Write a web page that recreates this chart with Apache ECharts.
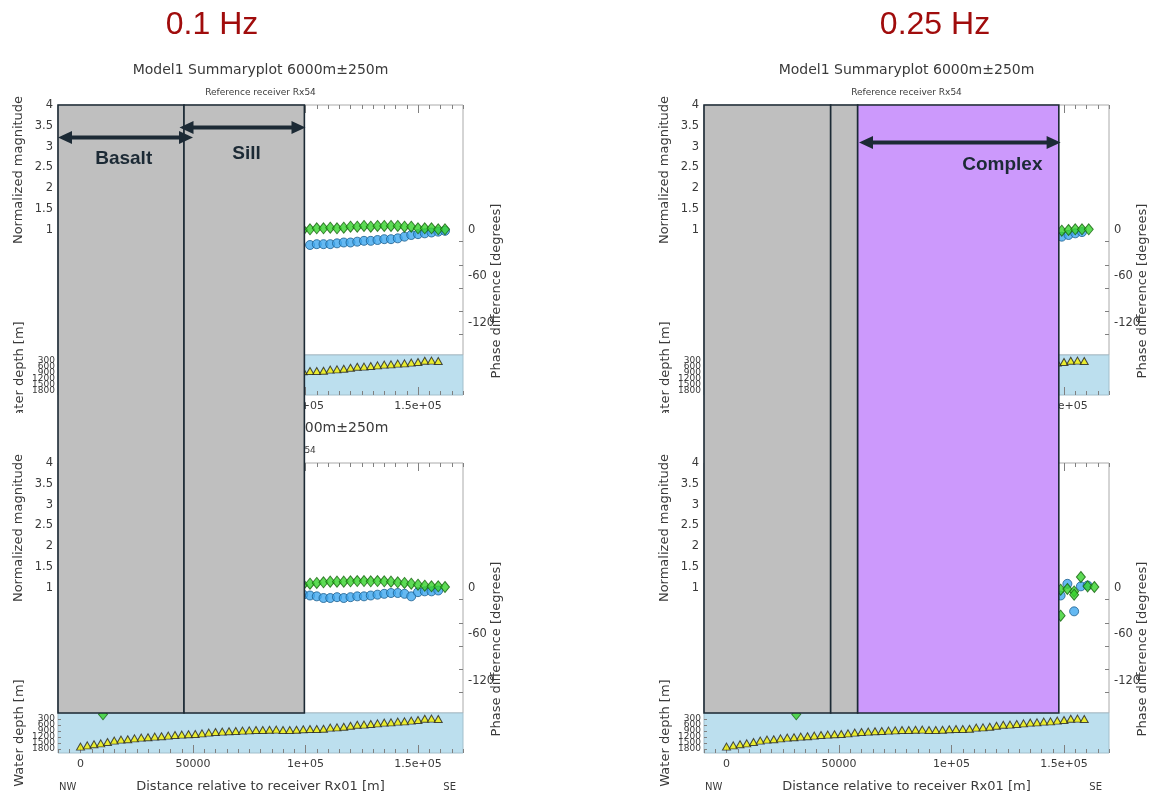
<!DOCTYPE html>
<html>
<head>
<meta charset="utf-8">
<title>Model1 Summaryplot 0.1 Hz / 0.25 Hz</title>
<script src="https://cdn.jsdelivr.net/npm/echarts@6/dist/echarts.min.js"></script>
<style>
  html, body { margin: 0; padding: 0; background: #fff; }
  #page { position: relative; width: 1158px; height: 801px; overflow: hidden; background: #fff; }
  .clip { position: absolute; overflow: hidden; background: #fff; }
  .plot { position: absolute; left: 0; width: 579px; height: 443px; }
  #overlay { position: absolute; left: 0; top: 0; width: 1158px; height: 801px; }
</style>
</head>
<body>
<div id="page">
  <div class="clip" style="left:0;top:0;width:579px;height:413px"><div id="p01a" class="plot" style="top:0"></div></div>
  <div class="clip" style="left:579px;top:0;width:579px;height:413px"><div id="p25a" class="plot" style="top:0"></div></div>
  <div class="clip" style="left:0;top:413px;width:579px;height:388px"><div id="p01b" class="plot" style="top:-55px"></div></div>
  <div class="clip" style="left:579px;top:413px;width:579px;height:388px"><div id="p25b" class="plot" style="top:-55px"></div></div>
  <div id="overlay"></div>
</div>
<script>
// ---------------- data ----------------
// receiver positions along the profile [m] and water depth at each receiver [m]
const depthX = [0,3000,6000,9000,12000,15000,18000,21000,24000,27000,30000,33000,36000,39000,42000,45000,48000,51000,54000,57000,60000,63000,66000,69000,72000,75000,78000,81000,84000,87000,90000,93000,96000,99000,102000,105000,108000,111000,114000,117000,120000,123000,126000,129000,132000,135000,138000,141000,144000,147000,150000,153000,156000,159000];
const depthM = [1680,1620,1560,1520,1450,1380,1330,1310,1270,1230,1210,1180,1160,1130,1100,1080,1060,1050,1020,980,950,930,910,900,880,870,850,850,840,830,850,850,840,810,800,800,790,730,720,690,640,590,580,550,520,480,470,430,420,380,350,290,280,300];

// 0.1 Hz, upper plot: [distance, value]
const phase01Upper = [[99000,0.0],[102000,0.9],[105000,2.2],[108000,2.2],[111000,3.0],[114000,2.2],[117000,3.0],[120000,4.3],[123000,4.3],[126000,5.2],[129000,4.3],[132000,5.2],[135000,5.2],[138000,5.2],[141000,5.2],[144000,4.3],[147000,4.3],[150000,2.2],[153000,2.2],[156000,2.2],[159000,0.9],[162000,0.9]];
const mag01Upper = [[102000,0.64],[105000,0.66],[108000,0.66],[111000,0.66],[114000,0.68],[117000,0.70],[120000,0.70],[123000,0.72],[126000,0.74],[129000,0.74],[132000,0.76],[135000,0.78],[138000,0.78],[141000,0.80],[144000,0.84],[147000,0.88],[150000,0.90],[153000,0.92],[156000,0.94],[159000,0.96],[162000,0.98]];
// 0.1 Hz, lower plot
const phase01Lower = [[10000,-163],[99000,4.3],[102000,5.6],[105000,6.5],[108000,7.3],[111000,8.2],[114000,8.2],[117000,8.2],[120000,8.6],[123000,9.0],[126000,9.0],[129000,8.6],[132000,9.0],[135000,8.6],[138000,8.2],[141000,7.3],[144000,6.5],[147000,5.6],[150000,4.3],[153000,3.0],[156000,2.2],[159000,2.2],[162000,1.3]];
const mag01Lower = [[99000,0.84],[102000,0.82],[105000,0.80],[108000,0.76],[111000,0.76],[114000,0.78],[117000,0.76],[120000,0.78],[123000,0.80],[126000,0.80],[129000,0.82],[132000,0.84],[135000,0.86],[138000,0.88],[141000,0.88],[144000,0.86],[147000,0.80],[150000,0.90],[153000,0.92],[156000,0.92],[159000,0.94]];
// 0.25 Hz, upper plot
const phase025Upper = [[149000,-0.9],[152000,0.0],[155000,0.9],[158000,0.9],[161000,0.9]];
const mag025Upper = [[149000,0.84],[152000,0.88],[155000,0.92],[158000,0.95]];
// 0.25 Hz, lower plot
const phase025Lower = [[31000,-163],[148500,-2.2],[148500,-35.7],[151500,-1.3],[154500,-4.4],[154500,-8.6],[157500,14.2],[160500,2.1],[163500,1.3]];
const mag025Lower = [[148500,0.82],[151500,1.10],[154500,0.44],[157500,1.04],[160500,1.06]];

// tick values and labels
const xTickValues = [0, 50000, 100000, 150000];
const xTickLabels = ['0', '50000', '1e+05', '1.5e+05'];
const magTickValues = [1, 1.5, 2, 2.5, 3, 3.5, 4];
const phaseLabelValues = [0, -60, -120];
const phaseTickValues = [-15, -45, -75, -105, -135];
const depthTickValues = [300, 600, 900, 1200, 1500, 1800];

// interpreted zones along the profile [m] and their annotations
const zoneEdges01 = [-10000, 46000, 99500];
const zoneEdges025 = [-10000, 46300, 58300, 147700];
const zoneNames01 = ['Basalt', 'Sill'];
const zoneSpans01 = [[-10000, 50000], [44000, 100000]];
const zoneArrowLevels01 = [3.22, 3.46];
const zoneLabelAt01 = [[19200, 2.70], [73800, 2.82]];
const zoneNames025 = ['Complex'];
const zoneSpans025 = [[58900, 148500]];
const zoneArrowLevels025 = [3.10];
const zoneLabelAt025 = [[122600, 2.56]];

// ---------------- axis ranges & styles ----------------
const X_MIN = -10000, X_MAX = 170000;
const MAG_MIN = -2, MAG_MAX = 4;
const PHASE_LIM = 161.3;
const DEPTH_MIN = 0, DEPTH_MAX = 2000;
const xMinorTicks = [];
for (let v = X_MIN; v <= X_MAX; v += 5000) xMinorTicks.push(v);
// blank end labels keep the crowded depth labels out of the min/max overlap check
const depthLabelSlots = [DEPTH_MIN].concat(depthTickValues, [DEPTH_MAX]);

const FONT = 'DejaVu Sans';
const TXT = '#3a3a3a';
const TICK = '#808080';
const FRAME = '#aaaaaa';
const PLOT_TITLE = 'Model1 Summaryplot 6000m\u00b1250m';
const PLOT_SUBTITLE = 'Reference receiver Rx54';
const PANEL_W = 579;
const LOWER_SHIFT = 358;
const ZONE_GRAY = '#bfbfbf';
const ZONE_PURPLE = '#cc99fc';
const ZONE_STROKE = '#1c2a35';
const zoneFills01 = [ZONE_GRAY, ZONE_GRAY];
const zoneFills025 = [ZONE_GRAY, ZONE_GRAY, ZONE_PURPLE];
const NO_LINE = { show: false, onZero: false };

function xAxisDef(grid, pos, opts) {
  return Object.assign({
    type: 'value', gridIndex: grid, position: pos, min: X_MIN, max: X_MAX,
    axisLine: NO_LINE, splitLine: { show: false },
    axisLabel: { show: false }
  }, opts);
}

function summaryOption(gl, magPts, phasePts) {
  const gw = 405, gt = 105, gh = 250, wt = 355, wh = 40;
  const cx = gl + gw / 2;
  const depthPts = depthX.map((x, i) => [x, depthM[i]]);
  return {
    animation: false,
    textStyle: { fontFamily: FONT },
    title: [
      { text: PLOT_TITLE, left: cx, top: 63, textAlign: 'center', padding: 0,
        textStyle: { fontSize: 14, fontWeight: 'normal', color: TXT, fontFamily: FONT } },
      { text: PLOT_SUBTITLE, left: cx, top: 88, textAlign: 'center', padding: 0,
        textStyle: { fontSize: 9, fontWeight: 'normal', color: TXT, fontFamily: FONT } }
    ],
    grid: [
      { left: gl, top: gt, width: gw, height: gh, show: true, backgroundColor: '#fff',
        borderColor: FRAME, borderWidth: 1, outerBoundsMode: 'none' },
      { left: gl, top: wt, width: gw, height: wh, show: true, backgroundColor: '#bcdfee',
        borderColor: '#a3bfcc', borderWidth: 1, outerBoundsMode: 'none' }
    ],
    xAxis: [
      xAxisDef(0, 'top', { axisTick: { show: true, inside: true, length: 4, customValues: xMinorTicks, lineStyle: { color: TICK } } }),
      xAxisDef(0, 'top', { axisTick: { show: true, inside: true, length: 8, customValues: xTickValues, lineStyle: { color: TICK } } }),
      xAxisDef(1, 'bottom', {
        axisTick: { show: true, inside: true, length: 4, customValues: xMinorTicks, lineStyle: { color: TICK } },
        axisLabel: { show: true, customValues: xTickValues, margin: 6, fontSize: 11, color: TXT, fontFamily: FONT,
          formatter: v => xTickLabels[xTickValues.indexOf(v)] },
        name: 'Distance relative to receiver Rx01 [m]', nameLocation: 'middle', nameGap: 27, nameMoveOverlap: false,
        nameTextStyle: { fontSize: 13, color: TXT, fontFamily: FONT }
      }),
      xAxisDef(1, 'bottom', { axisTick: { show: true, inside: true, length: 8, customValues: xTickValues, lineStyle: { color: TICK } } })
    ],
    yAxis: [
      { type: 'value', gridIndex: 0, position: 'left', min: MAG_MIN, max: MAG_MAX,
        axisLine: NO_LINE, splitLine: { show: false }, axisTick: { show: false },
        axisLabel: { customValues: magTickValues, margin: 5, fontSize: 11.5, color: TXT, fontFamily: FONT,
          showMinLabel: true, showMaxLabel: true },
        name: 'Normalized magnitude', nameLocation: 'middle', nameGap: 33, nameMoveOverlap: false,
        nameTextStyle: { fontSize: 13, color: TXT, fontFamily: FONT, padding: [0, 0, 0, 120] } },
      { type: 'value', gridIndex: 0, position: 'right', min: -PHASE_LIM, max: PHASE_LIM,
        axisLine: NO_LINE, splitLine: { show: false },
        axisTick: { show: true, inside: true, length: 4, customValues: phaseTickValues, lineStyle: { color: TICK } },
        axisLabel: { customValues: phaseLabelValues, margin: 5, fontSize: 11.5, color: TXT, fontFamily: FONT,
          showMinLabel: true, showMaxLabel: true },
        name: 'Phase difference [degrees]', nameLocation: 'middle', nameGap: 27, nameMoveOverlap: false,
        nameTextStyle: { fontSize: 13, color: TXT, fontFamily: FONT, padding: [0, 122, 0, 0] } },
      { type: 'value', gridIndex: 1, position: 'left', min: DEPTH_MIN, max: DEPTH_MAX, inverse: true,
        axisLine: NO_LINE, splitLine: { show: false },
        axisTick: { show: true, inside: true, length: 3, customValues: depthTickValues, lineStyle: { color: TICK } },
        axisLabel: { customValues: depthLabelSlots, margin: 3, fontSize: 9, color: TXT, fontFamily: FONT,
          hideOverlap: false,
          formatter: v => (depthTickValues.indexOf(v) >= 0 ? String(v) : '') },
        name: 'Water depth [m]', nameLocation: 'middle', nameGap: 32, nameMoveOverlap: false,
        nameTextStyle: { fontSize: 13, color: TXT, fontFamily: FONT } }
    ],
    graphic: [
      { type: 'text', left: gl + 1, top: 424, silent: true,
        style: { text: 'NW', fontSize: 10, fill: TXT, fontFamily: FONT } },
      { type: 'text', right: PANEL_W - (gl + gw) + 7, top: 424, silent: true,
        style: { text: 'SE', fontSize: 10, fill: TXT, fontFamily: FONT } }
    ],
    series: [
      { type: 'scatter', name: 'magnitude', xAxisIndex: 0, yAxisIndex: 0, data: magPts, clip: false, silent: true,
        symbol: 'circle', symbolSize: 9, z: 3,
        itemStyle: { color: '#3ea7ef', borderColor: '#1d5f8f', borderWidth: 1 } },
      { type: 'scatter', name: 'phase', xAxisIndex: 0, yAxisIndex: 1, data: phasePts, clip: false, silent: true,
        symbol: 'diamond', symbolSize: [9, 11], z: 4,
        itemStyle: { color: '#36d22c', borderColor: '#17650f', borderWidth: 1 } },
      { type: 'scatter', name: 'water depth', xAxisIndex: 2, yAxisIndex: 2, data: depthPts, clip: false, silent: true,
        symbol: 'triangle', symbolSize: [8, 7], z: 3,
        itemStyle: { color: '#f4ef00', borderColor: '#222', borderWidth: 1 } }
    ]
  };
}

const c01a = echarts.init(document.getElementById('p01a'));
const c01b = echarts.init(document.getElementById('p01b'));
const c25a = echarts.init(document.getElementById('p25a'));
const c25b = echarts.init(document.getElementById('p25b'));
c01a.setOption(summaryOption(58, mag01Upper, phase01Upper));
c01b.setOption(summaryOption(58, mag01Lower, phase01Lower));
c25a.setOption(summaryOption(125, mag025Upper, phase025Upper));
c25b.setOption(summaryOption(125, mag025Lower, phase025Lower));

// ---------------- zone overlays (boxes, arrows, labels) ----------------
function zoneGraphics(upper, lower, offX, edges, fills, names, spans, levels, labelAt) {
  const els = [];
  const px = v => upper.convertToPixel({ xAxisIndex: 0 }, v) + offX;
  const py = v => upper.convertToPixel({ yAxisIndex: 0 }, v);
  const yTop = py(MAG_MAX);
  const yBot = lower.convertToPixel({ yAxisIndex: 2 }, DEPTH_MIN) + LOWER_SHIFT;
  for (let i = 0; i < edges.length - 1; i++) {
    const x0 = px(edges[i]), x1 = px(edges[i + 1]);
    els.push({ type: 'rect', silent: true, z: 10,
      shape: { x: x0, y: yTop, width: x1 - x0, height: yBot - yTop },
      style: { fill: fills[i], stroke: ZONE_STROKE, lineWidth: 1.6 } });
  }
  const head = 14, half = 6.5;
  names.forEach((name, i) => {
    const xa = px(spans[i][0]), xb = px(spans[i][1]), y = py(levels[i]);
    els.push({ type: 'line', silent: true, z: 12,
      shape: { x1: xa + head - 3, y1: y, x2: xb - head + 3, y2: y },
      style: { stroke: ZONE_STROKE, lineWidth: 4 } });
    els.push({ type: 'polygon', silent: true, z: 12,
      shape: { points: [[xa, y], [xa + head, y - half], [xa + head, y + half]] },
      style: { fill: ZONE_STROKE } });
    els.push({ type: 'polygon', silent: true, z: 12,
      shape: { points: [[xb, y], [xb - head, y - half], [xb - head, y + half]] },
      style: { fill: ZONE_STROKE } });
    els.push({ type: 'text', silent: true, z: 13,
      x: px(labelAt[i][0]), y: py(labelAt[i][1]),
      style: { text: name, fill: ZONE_STROKE, fontSize: 19, fontWeight: 'bold', fontFamily: 'Liberation Sans',
        align: 'center', verticalAlign: 'middle', textAlign: 'center', textVerticalAlign: 'middle' } });
  });
  return els;
}

const overlay = echarts.init(document.getElementById('overlay'));
overlay.setOption({
  animation: false,
  title: [
    { text: '0.1 Hz', left: 212, top: 9, textAlign: 'center', padding: 0,
      textStyle: { fontSize: 32, fontWeight: 'normal', color: '#a00c0c', fontFamily: 'Liberation Sans' } },
    { text: '0.25 Hz', left: 935, top: 9, textAlign: 'center', padding: 0,
      textStyle: { fontSize: 32, fontWeight: 'normal', color: '#a00c0c', fontFamily: 'Liberation Sans' } }
  ],
  graphic: [].concat(
    zoneGraphics(c01a, c01b, 0, zoneEdges01, zoneFills01, zoneNames01, zoneSpans01, zoneArrowLevels01, zoneLabelAt01),
    zoneGraphics(c25a, c25b, PANEL_W, zoneEdges025, zoneFills025, zoneNames025, zoneSpans025, zoneArrowLevels025, zoneLabelAt025)
  )
});
</script>
</body>
</html>
